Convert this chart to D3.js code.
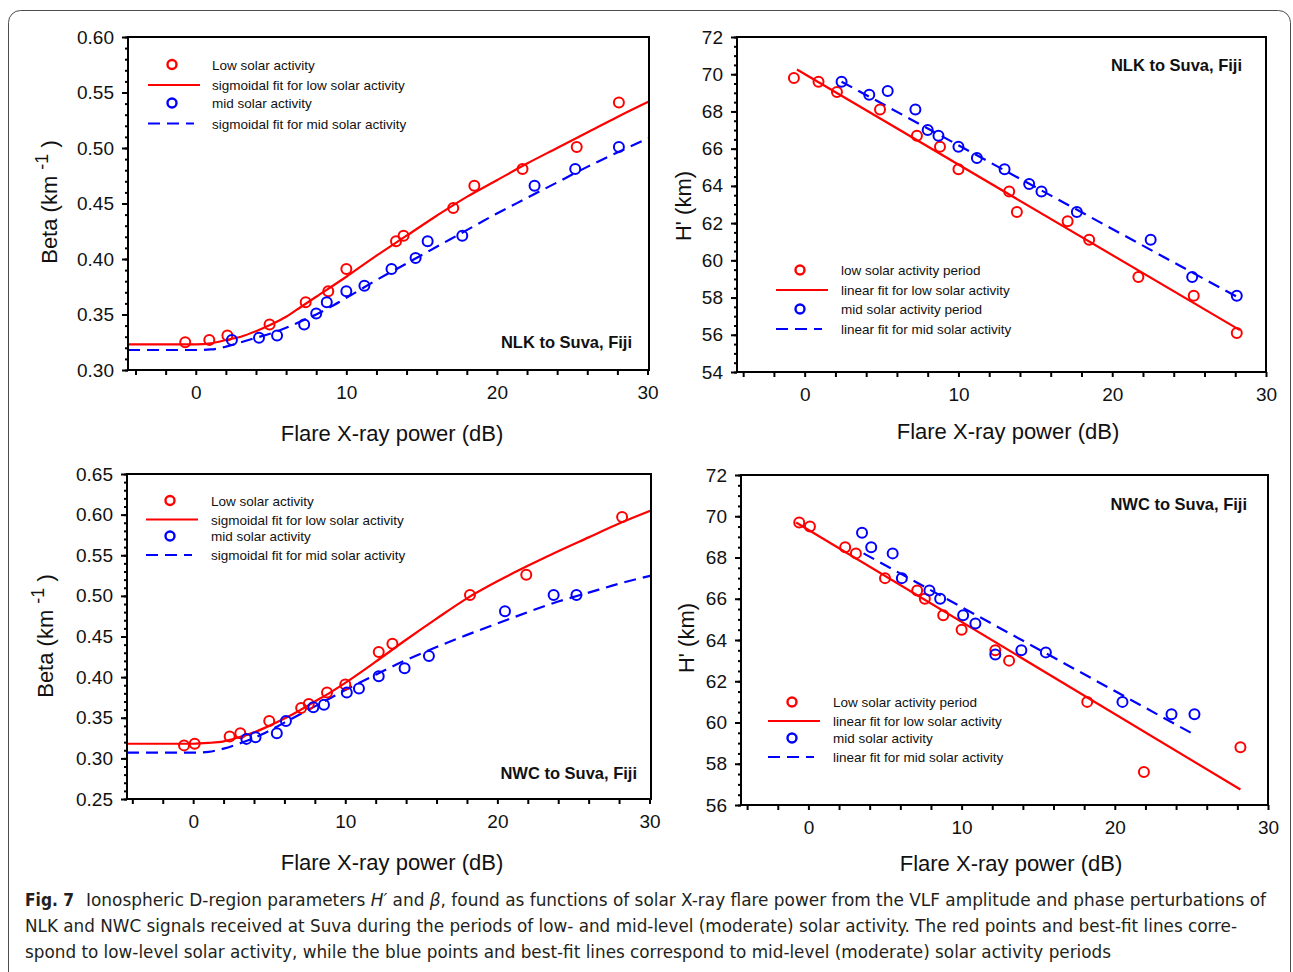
<!DOCTYPE html>
<html>
<head>
<meta charset="utf-8">
<script src="https://cdn.jsdelivr.net/npm/d3@7"></script>
<style>
body { margin: 0; background: #fff; }
svg { display: block; font-family: "Liberation Sans", Arial, sans-serif; }
</style>
</head>
<body>
<script>
// ---- data ----
// NLK to Suva : low solar activity (red) and mid solar activity (blue)
var nlkLowX = [-0.7, 0.9, 2.1, 4.9, 7.3, 8.8, 10.0, 13.3, 13.8, 17.1, 18.5, 21.7, 25.3, 28.1];
var nlkLowBeta = [0.325, 0.327, 0.331, 0.341, 0.361, 0.371, 0.391, 0.416, 0.421, 0.446, 0.466, 0.481, 0.501, 0.541];
var nlkLowH = [69.8, 69.6, 69.05, 68.1, 66.7, 66.1, 64.9, 63.7, 62.6, 62.1, 61.1, 59.1, 58.1, 56.1];
var nlkMidX = [2.4, 4.2, 5.4, 7.2, 8.0, 8.7, 10.0, 11.2, 13.0, 14.6, 15.4, 17.7, 22.5, 25.2, 28.1];
var nlkMidBeta = [0.327, 0.329, 0.331, 0.341, 0.351, 0.361, 0.371, 0.376, 0.391, 0.401, 0.416, 0.421, 0.466, 0.481, 0.501];
var nlkMidH = [69.6, 68.9, 69.1, 68.1, 67.0, 66.7, 66.1, 65.5, 64.9, 64.1, 63.7, 62.6, 61.1, 59.1, 58.1];

// sigmoidal fits
var nlkFitX = [-4.5, 0, 1, 2, 3, 4, 5, 6, 7, 8, 10, 12, 14, 16, 18, 20, 22, 24, 26, 28, 30.1];
var nlkLowFit = [0.323, 0.323, 0.324, 0.327, 0.330, 0.335, 0.341, 0.348, 0.357, 0.366, 0.384, 0.403, 0.421, 0.439, 0.456, 0.471, 0.486, 0.500, 0.514, 0.528, 0.542];
var nlkMidFit = [0.318, 0.318, 0.3185, 0.321, 0.325, 0.329, 0.333, 0.338, 0.344, 0.350, 0.365, 0.381, 0.396, 0.411, 0.426, 0.441, 0.455, 0.469, 0.483, 0.496, 0.509];
// linear fits (end points)
var nlkLowLineX = [-0.5, 28.3];
var nlkLowLineH = [70.25, 56.25];
var nlkMidLineX = [2.4, 28.2];
var nlkMidLineH = [69.6, 58.0];

// NWC to Suva
var nwcLowX = [-0.6, 0.1, 2.4, 3.1, 5.0, 7.1, 7.6, 8.8, 10.0, 12.2, 13.1, 18.2, 21.9, 28.2];
var nwcLowBeta = [0.316, 0.318, 0.327, 0.331, 0.346, 0.362, 0.367, 0.381, 0.391, 0.431, 0.441, 0.501, 0.526, 0.597];
var nwcLowH = [69.7, 69.5, 68.5, 68.2, 67.0, 66.4, 66.0, 65.2, 64.5, 63.5, 63.0, 61.0, 57.6, 58.8];
var nwcMidX = [3.5, 4.1, 5.5, 6.1, 7.9, 8.6, 10.1, 10.9, 12.2, 13.9, 15.5, 20.5, 23.7, 25.2];
var nwcMidBeta = [0.324, 0.326, 0.331, 0.346, 0.363, 0.366, 0.381, 0.386, 0.401, 0.411, 0.426, 0.481, 0.501, 0.501];
var nwcMidH = [69.2, 68.5, 68.2, 67.0, 66.4, 66.0, 65.2, 64.8, 63.3, 63.5, 63.4, 61.0, 60.4, 60.4];

var nwcFitX = [-4.35, 0, 1, 2, 3, 4, 5, 6, 7, 8, 9, 10, 12, 14, 16, 18, 20, 22, 24, 26, 28, 30.1];
var nwcLowFit = [0.318, 0.318, 0.319, 0.321, 0.326, 0.332, 0.340, 0.349, 0.359, 0.370, 0.381, 0.393, 0.419, 0.446, 0.472, 0.497, 0.518, 0.537, 0.555, 0.572, 0.589, 0.605];
var nwcMidFit = [0.307, 0.307, 0.308, 0.312, 0.318, 0.325, 0.334, 0.344, 0.354, 0.364, 0.374, 0.384, 0.403, 0.421, 0.437, 0.452, 0.466, 0.480, 0.493, 0.504, 0.515, 0.525];
var nwcLowLineX = [-0.8, 28.2];
var nwcLowLineH = [69.7, 56.75];
var nwcMidLineX = [3.6, 25.1];
var nwcMidLineH = [68.2, 59.45];

// ticks
var xTicks = d3.range(-4, 31, 2);
var xLabels = [0, 10, 20, 30];
var nlkBetaTicks = [0.30, 0.35, 0.40, 0.45, 0.50, 0.55, 0.60];
var nwcBetaTicks = [0.25, 0.30, 0.35, 0.40, 0.45, 0.50, 0.55, 0.60, 0.65];
var nlkHTicks = [54, 56, 58, 60, 62, 64, 66, 68, 70, 72];
var nwcHTicks = [56, 58, 60, 62, 64, 66, 68, 70, 72];

var RED = "#ff0000", BLUE = "#0000ff";

var svg = d3.select("body").append("svg")
    .attr("width", 1293)
    .attr("height", 972);

// figure border
svg.append("rect")
    .attr("x", 8.5).attr("y", 10.5)
    .attr("width", 1282).attr("height", 1000)
    .attr("rx", 12)
    .attr("fill", "none")
    .attr("stroke", "#4d4d4d")
    .attr("stroke-width", 1);

function drawPanel(p) {
  var x = d3.scaleLinear().domain(p.xDomain).range([p.left, p.right]);
  var y = d3.scaleLinear().domain(p.yDomain).range([p.bottom, p.top]);
  var g = svg.append("g");

  // x ticks every 2 dB, labels at 0,10,20,30
  var xa = g.append("g")
      .attr("transform", "translate(0," + p.bottom + ")")
      .call(d3.axisBottom(x).tickValues(xTicks).tickSize(5).tickPadding(11)
        .tickFormat(function(d) { return xLabels.indexOf(d) >= 0 ? d : ""; }));
  // y minor ticks
  var ym = g.append("g")
      .attr("transform", "translate(" + p.left + ",0)")
      .call(d3.axisLeft(y).tickValues(p.yMinor).tickSize(3).tickFormat(""));
  var ya = g.append("g")
      .attr("transform", "translate(" + p.left + ",0)")
      .call(d3.axisLeft(y).tickValues(p.yTicks).tickSize(6).tickPadding(8).tickFormat(p.yFormat));
  [xa, ym, ya].forEach(function(a) {
    a.select(".domain").remove();
    a.selectAll("line").attr("stroke", "#000").attr("stroke-width", 2);
    a.selectAll("text").attr("font-size", 19).attr("fill", "#111")
      .attr("font-family", "Liberation Sans, Arial, sans-serif");
  });

  // fits
  p.fits.forEach(function(f) {
    var line = d3.line()
        .x(function(d) { return x(d[0]); })
        .y(function(d) { return y(d[1]); });
    if (f.smooth) line.curve(d3.curveMonotoneX);
    g.append("path")
        .datum(d3.zip(f.xs, f.ys))
        .attr("d", line)
        .attr("fill", "none")
        .attr("stroke", f.color)
        .attr("stroke-width", 2.2)
        .attr("stroke-dasharray", f.dash ? "12,7" : null);
  });

  // points
  p.points.forEach(function(s) {
    g.selectAll(null)
        .data(d3.zip(s.xs, s.ys))
        .enter().append("circle")
        .attr("cx", function(d) { return x(d[0]); })
        .attr("cy", function(d) { return y(d[1]); })
        .attr("r", 5)
        .attr("fill", "none")
        .attr("stroke", s.color)
        .attr("stroke-width", 2);
  });

  // frame
  g.append("rect")
      .attr("x", p.left).attr("y", p.top)
      .attr("width", p.right - p.left).attr("height", p.bottom - p.top)
      .attr("fill", "none").attr("stroke", "#000").attr("stroke-width", 2);

  // station label
  g.append("text").text(p.station)
      .attr("x", p.stationX).attr("y", p.stationY)
      .attr("text-anchor", "end")
      .attr("font-size", 16.5).attr("font-weight", "bold").attr("fill", "#111");

  // axis titles
  g.append("text").text("Flare X-ray power (dB)")
      .attr("x", p.xTitleX).attr("y", p.xTitleY)
      .attr("text-anchor", "middle")
      .attr("font-size", 22).attr("fill", "#111");

  var yt = g.append("text")
      .attr("transform", "translate(" + p.yTitleX + "," + p.yTitleY + ") rotate(-90)")
      .attr("text-anchor", "middle")
      .attr("font-size", 22).attr("fill", "#111");
  if (p.beta) {
    yt.append("tspan").text("Beta (km ");
    yt.append("tspan").text("-1").attr("font-size", 18).attr("dy", -9);
    yt.append("tspan").text(" )").attr("dy", 9);
  } else {
    yt.text("H' (km)");
  }

  // legend
  var lg = g.append("g").attr("font-size", 13.5).attr("fill", "#111");
  p.legend.forEach(function(it, i) {
    var cy = p.legY[i];
    if (it.kind == "dot") {
      lg.append("circle").attr("cx", p.legX + 24).attr("cy", cy).attr("r", 4.5)
        .attr("fill", "none").attr("stroke", it.color).attr("stroke-width", 2.4);
    } else {
      lg.append("line").attr("x1", p.legX).attr("x2", p.legX + (it.dash ? 46 : 52))
        .attr("y1", cy).attr("y2", cy)
        .attr("stroke", it.color).attr("stroke-width", 2.2)
        .attr("stroke-dasharray", it.dash ? "12,7" : null);
    }
    lg.append("text").text(it.label).attr("x", p.legTextX).attr("y", cy + 5);
  });
}

function fmt2(d) { return d3.format(".2f")(d); }
function fmt0(d) { return d; }
function minors(lo, hi, step) {
  return d3.range(Math.round((hi - lo) / step) + 1).map(function(i) { return +(lo + i * step).toFixed(3); });
}

drawPanel({
  left: 128, right: 649, top: 37, bottom: 370,
  xDomain: [-4.5, 30.1], yDomain: [0.30, 0.60],
  yTicks: nlkBetaTicks, yMinor: minors(0.30, 0.60, 0.01), yFormat: fmt2, beta: true,
  fits: [{xs: nlkFitX, ys: nlkLowFit, color: RED, smooth: true},
         {xs: nlkFitX, ys: nlkMidFit, color: BLUE, smooth: true, dash: true}],
  points: [{xs: nlkLowX, ys: nlkLowBeta, color: RED}, {xs: nlkMidX, ys: nlkMidBeta, color: BLUE}],
  station: "NLK to Suva, Fiji", stationX: 632, stationY: 348,
  xTitleX: 392, xTitleY: 441, yTitleX: 57, yTitleY: 202,
  legX: 148, legTextX: 212, legY: [64.5, 85, 103, 123.5],
  legend: [{kind: "dot", color: RED, label: "Low solar activity"},
           {kind: "line", color: RED, label: "sigmoidal fit for low solar activity"},
           {kind: "dot", color: BLUE, label: "mid solar activity"},
           {kind: "line", color: BLUE, dash: true, label: "sigmoidal fit for mid solar activity"}]
});

drawPanel({
  left: 737, right: 1266, top: 37, bottom: 372,
  xDomain: [-4.4, 30], yDomain: [54, 72],
  yTicks: nlkHTicks, yMinor: minors(54, 72, 0.5), yFormat: fmt0, beta: false,
  fits: [{xs: nlkLowLineX, ys: nlkLowLineH, color: RED},
         {xs: nlkMidLineX, ys: nlkMidLineH, color: BLUE, dash: true}],
  points: [{xs: nlkLowX, ys: nlkLowH, color: RED}, {xs: nlkMidX, ys: nlkMidH, color: BLUE}],
  station: "NLK to Suva, Fiji", stationX: 1242, stationY: 71,
  xTitleX: 1008, xTitleY: 439, yTitleX: 691, yTitleY: 206,
  legX: 776, legTextX: 841, legY: [270, 290, 309, 329],
  legend: [{kind: "dot", color: RED, label: "low solar activity period"},
           {kind: "line", color: RED, label: "linear fit for low solar activity"},
           {kind: "dot", color: BLUE, label: "mid solar activity period"},
           {kind: "line", color: BLUE, dash: true, label: "linear fit for mid solar activity"}]
});

drawPanel({
  left: 127, right: 651, top: 474, bottom: 799,
  xDomain: [-4.35, 30.1], yDomain: [0.25, 0.65],
  yTicks: nwcBetaTicks, yMinor: minors(0.25, 0.65, 0.01), yFormat: fmt2, beta: true,
  fits: [{xs: nwcFitX, ys: nwcLowFit, color: RED, smooth: true},
         {xs: nwcFitX, ys: nwcMidFit, color: BLUE, smooth: true, dash: true}],
  points: [{xs: nwcLowX, ys: nwcLowBeta, color: RED}, {xs: nwcMidX, ys: nwcMidBeta, color: BLUE}],
  station: "NWC to Suva, Fiji", stationX: 637, stationY: 779,
  xTitleX: 392, xTitleY: 870, yTitleX: 53, yTitleY: 636,
  legX: 146, legTextX: 211, legY: [500.5, 519.5, 536, 555],
  legend: [{kind: "dot", color: RED, label: "Low solar activity"},
           {kind: "line", color: RED, label: "sigmoidal fit for low solar activity"},
           {kind: "dot", color: BLUE, label: "mid solar activity"},
           {kind: "line", color: BLUE, dash: true, label: "sigmoidal fit for mid solar activity"}]
});

drawPanel({
  left: 741, right: 1268, top: 475, bottom: 805,
  xDomain: [-4.4, 30], yDomain: [56, 72],
  yTicks: nwcHTicks, yMinor: minors(56, 72, 0.5), yFormat: fmt0, beta: false,
  fits: [{xs: nwcLowLineX, ys: nwcLowLineH, color: RED},
         {xs: nwcMidLineX, ys: nwcMidLineH, color: BLUE, dash: true}],
  points: [{xs: nwcLowX, ys: nwcLowH, color: RED}, {xs: nwcMidX, ys: nwcMidH, color: BLUE}],
  station: "NWC to Suva, Fiji", stationX: 1247, stationY: 510,
  xTitleX: 1011, xTitleY: 871, yTitleX: 694, yTitleY: 638,
  legX: 768, legTextX: 833, legY: [702, 721, 738, 757],
  legend: [{kind: "dot", color: RED, label: "Low solar activity period"},
           {kind: "line", color: RED, label: "linear fit for low solar activity"},
           {kind: "dot", color: BLUE, label: "mid solar activity"},
           {kind: "line", color: BLUE, dash: true, label: "linear fit for mid solar activity"}]
});

// caption
var capFont = "'Liberation Sans Narrow', 'DejaVu Sans Condensed', 'Liberation Sans', sans-serif";
svg.append("text").text("Fig. 7")
    .attr("x", 25).attr("y", 906)
    .attr("font-size", 17.5).attr("font-weight", "bold").attr("fill", "#231f20")
    .attr("font-family", capFont)
    .attr("textLength", 49).attr("lengthAdjust", "spacingAndGlyphs");

var c1 = svg.append("text")
    .attr("x", 86).attr("y", 906)
    .attr("font-size", 17.5).attr("fill", "#231f20").attr("font-family", capFont)
    .attr("textLength", 1180).attr("lengthAdjust", "spacingAndGlyphs");
c1.append("tspan").text("Ionospheric D-region parameters ");
c1.append("tspan").text("H\u2032").attr("font-style", "italic");
c1.append("tspan").text(" and ");
c1.append("tspan").text("\u03b2").attr("font-style", "italic");
c1.append("tspan").text(", found as functions of solar X-ray flare power from the VLF amplitude and phase perturbations of");

svg.append("text")
    .text("NLK and NWC signals received at Suva during the periods of low- and mid-level (moderate) solar activity. The red points and best-fit lines corre-")
    .attr("x", 25).attr("y", 932)
    .attr("font-size", 17.5).attr("fill", "#231f20").attr("font-family", capFont)
    .attr("textLength", 1212).attr("lengthAdjust", "spacingAndGlyphs");

svg.append("text")
    .text("spond to low-level solar activity, while the blue points and best-fit lines correspond to mid-level (moderate) solar activity periods")
    .attr("x", 25).attr("y", 958)
    .attr("font-size", 17.5).attr("fill", "#231f20").attr("font-family", capFont)
    .attr("textLength", 1086).attr("lengthAdjust", "spacingAndGlyphs");
</script>
</body>
</html>
